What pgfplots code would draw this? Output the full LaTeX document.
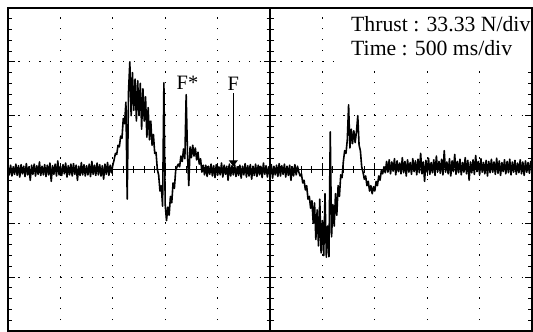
\documentclass[border=0pt]{standalone}
\usepackage{pgfplots}
\pgfplotsset{compat=1.18}
\usepackage{pgfplotstable}
\usepackage{fontspec}
\setmainfont{Liberation Serif}
\usetikzlibrary{arrows.meta}

\pgfplotstableread[row sep=\\]{
y\\
0.06\\ -0.10\\ 0.08\\ -0.12\\ 0.05\\ -0.09\\ 0.10\\ -0.11\\ 0.07\\ -0.14\\
0.09\\ -0.08\\ 0.06\\ -0.13\\ 0.11\\ -0.10\\ 0.05\\ -0.20\\ 0.08\\ -0.09\\
0.10\\ -0.12\\ 0.07\\ -0.09\\ 0.14\\ -0.11\\ 0.06\\ -0.10\\ 0.09\\ -0.13\\
0.08\\ -0.10\\ 0.12\\ -0.22\\ 0.07\\ -0.09\\ 0.10\\ -0.12\\ 0.16\\ -0.10\\
0.06\\ -0.11\\ 0.09\\ -0.08\\ 0.12\\ -0.14\\ 0.07\\ -0.10\\ 0.10\\ -0.12\\
0.11\\ -0.09\\ 0.08\\ -0.20\\ 0.06\\ -0.11\\ 0.13\\ -0.10\\ 0.09\\ -0.12\\
0.07\\ -0.10\\ 0.10\\ -0.13\\ 0.15\\ -0.09\\ 0.08\\ -0.11\\ 0.12\\ -0.10\\
0.09\\ -0.12\\ 0.07\\ -0.18\\ 0.10\\ -0.09\\ 0.13\\ -0.11\\ 0.08\\ -0.06\\
0.08\\ 0.18\\ 0.30\\ 0.28\\ 0.45\\ 0.42\\ 0.62\\ 0.58\\ 0.95\\ 0.85\\
1.25\\ -0.55\\ 1.45\\ 2.00\\ 1.00\\ 1.80\\ 1.10\\ 1.68\\ 0.90\\ 1.65\\
1.00\\ 1.60\\ 0.75\\ 1.50\\ 0.90\\ 1.35\\ 0.60\\ 1.15\\ 0.55\\ 0.90\\
0.45\\ 0.65\\ 0.30\\ 0.32\\ 0.00\\ -0.10\\ -0.40\\ -0.30\\ -0.68\\ 1.61\\
-0.65\\ -0.95\\ -0.70\\ -0.85\\ -0.50\\ -0.62\\ -0.25\\ -0.35\\ -0.02\\ 0.05\\
0.10\\ 0.05\\ 0.25\\ 0.15\\ 0.38\\ 0.20\\ 1.39\\ 0.30\\ -0.30\\ 0.42\\
0.22\\ 0.45\\ 0.25\\ 0.40\\ 0.18\\ 0.32\\ 0.10\\ 0.20\\ -0.05\\ 0.08\\
-0.10\\ 0.08\\ -0.13\\ 0.06\\ -0.09\\ 0.10\\ -0.12\\ 0.07\\ -0.15\\ 0.09\\
-0.11\\ 0.05\\ -0.10\\ 0.12\\ -0.14\\ 0.08\\ -0.09\\ 0.06\\ -0.20\\ 0.10\\
-0.12\\ 0.07\\ -0.10\\ 0.09\\ -0.13\\ 0.05\\ -0.11\\ 0.08\\ -0.16\\ 0.06\\
-0.10\\ 0.11\\ -0.14\\ 0.07\\ -0.12\\ 0.09\\ -0.18\\ 0.06\\ -0.11\\ 0.10\\
-0.13\\ 0.08\\ -0.10\\ 0.06\\ -0.15\\ 0.12\\ -0.09\\ 0.07\\ -0.14\\ 0.05\\
-0.11\\ 0.09\\ -0.16\\ 0.06\\ -0.10\\ 0.08\\ -0.13\\ 0.11\\ -0.12\\ 0.07\\
-0.09\\ 0.10\\ -0.14\\ 0.06\\ -0.11\\ 0.08\\ -0.20\\ 0.05\\ -0.12\\ 0.09\\
-0.10\\ 0.06\\ -0.05\\ -0.12\\ -0.08\\ -0.25\\ -0.20\\ -0.38\\ -0.30\\ -0.55\\
-0.50\\ -0.72\\ -0.58\\ -1.00\\ -0.62\\ -1.30\\ -0.75\\ -1.42\\ -0.55\\ -1.55\\
-0.95\\ -1.60\\ -0.45\\ -1.63\\ -1.05\\ -1.62\\ 0.70\\ -1.25\\ -0.65\\ -1.05\\
-0.45\\ -0.85\\ -0.30\\ -0.50\\ -0.10\\ -0.15\\ 0.15\\ 0.35\\ 0.30\\ 0.55\\
1.20\\ 0.40\\ 0.75\\ 0.48\\ 0.72\\ 0.50\\ 0.70\\ 1.00\\ 0.45\\ 0.35\\
0.05\\ -0.05\\ -0.18\\ -0.12\\ -0.30\\ -0.22\\ -0.40\\ -0.30\\ -0.45\\ -0.32\\
-0.40\\ -0.22\\ -0.30\\ -0.12\\ -0.20\\ -0.02\\ -0.08\\ 0.05\\ -0.06\\ 0.15\\
-0.05\\ 0.18\\ -0.08\\ 0.14\\ -0.03\\ 0.20\\ -0.10\\ 0.16\\ -0.04\\ 0.12\\
-0.08\\ 0.22\\ -0.06\\ 0.15\\ -0.12\\ 0.18\\ -0.05\\ 0.13\\ -0.09\\ 0.20\\
-0.04\\ 0.16\\ -0.10\\ 0.19\\ -0.06\\ 0.30\\ -0.08\\ 0.14\\ -0.22\\ 0.17\\
-0.05\\ 0.21\\ -0.09\\ 0.13\\ -0.06\\ 0.18\\ -0.11\\ 0.25\\ -0.04\\ 0.15\\
-0.07\\ 0.19\\ -0.10\\ 0.35\\ -0.05\\ 0.14\\ -0.08\\ 0.20\\ -0.12\\ 0.16\\
-0.04\\ 0.28\\ -0.09\\ 0.15\\ -0.06\\ 0.19\\ -0.10\\ 0.13\\ -0.05\\ 0.22\\
-0.08\\ 0.17\\ -0.20\\ 0.14\\ -0.06\\ 0.18\\ -0.09\\ 0.26\\ -0.04\\ 0.15\\
-0.10\\ 0.20\\ -0.05\\ 0.13\\ -0.08\\ 0.17\\ -0.12\\ 0.15\\ -0.06\\ 0.19\\
-0.05\\ 0.14\\ -0.09\\ 0.21\\ -0.07\\ 0.16\\ -0.11\\ 0.13\\ -0.04\\ 0.18\\
-0.08\\ 0.15\\ -0.06\\ 0.19\\ -0.10\\ 0.14\\ -0.05\\ 0.17\\ -0.09\\ 0.12\\
-0.06\\ 0.18\\ -0.08\\ 0.14\\ -0.11\\ 0.16\\ -0.05\\ 0.13\\ -0.07\\ 0.15\\
0.02\\
}\trace

\begin{document}
\begin{tikzpicture}
\useasboundingbox (0,0) rectangle (533bp,332bp);
\fill[white] (0,0) rectangle (533bp,332bp);
% screen frame with dotted graticule
\begin{axis}[at={(8bp,1bp)}, anchor=south west, scale only axis,
  width=524bp, height=323bp,
  xmin=-5, xmax=5, ymin=-3, ymax=3,
  xtick={-5,...,5}, ytick={-3,...,3},
  xticklabels={}, yticklabels={},
  minor y tick num=4,
  grid=major,
  major x grid style={black, line width=1.2bp, dash pattern=on 1.2bp off 9.57bp},
  major y grid style={black, line width=1.2bp, dash pattern=on 1.2bp off 9.28bp},
  tick align=inside, major tick length=7bp, minor tick length=4bp,
  xtick style={draw=none},
  ytick style={black, line width=0.9bp},
  axis line style={black, line width=1.3bp},
]
\end{axis}
% white box behind the scale text
\fill[white] (340bp,263bp) rectangle (531.3bp,323.3bp);
% crosshair and trace
\begin{axis}[at={(8bp,1bp)}, anchor=south west, scale only axis,
  width=524bp, height=323bp,
  xmin=-5, xmax=5, ymin=-3, ymax=3,
  axis lines=middle,
  axis line style={-, black, line width=1.1bp},
  every inner x axis line/.append style={-},
  every inner y axis line/.append style={-},
  xtick={-5,...,5}, ytick={-3,...,3}, minor tick num=4,
  xticklabels={}, yticklabels={},
  tick align=center, major tick length=12bp, minor tick length=7bp,
  tick style={black, line width=0.9bp},
]
\addplot[black, line width=1.6bp, line join=round] table[x expr=\coordindex/40-5, y=y]{\trace};
\draw[black, line width=1bp, -{Triangle[width=9bp,length=6bp]}] (axis cs:-0.70,1.42) -- (axis cs:-0.70,0.06);
\node[anchor=base, inner sep=0pt, font=\fontsize{20.5}{24}\selectfont] at (axis cs:-0.70,1.46) {F};
\node[anchor=base, inner sep=0pt, font=\fontsize{20.5}{24}\selectfont] at (axis cs:-1.575,1.48) {F*};
\end{axis}
\node[anchor=base west, inner sep=0pt, font=\fontsize{21.8}{26}\selectfont] at (351bp,300bp) {Thrust : 33.33 N/div};
\node[anchor=base west, inner sep=0pt, font=\fontsize{21.8}{26}\selectfont] at (351bp,276bp) {Time : 500 ms/div};
\end{tikzpicture}
\end{document}
